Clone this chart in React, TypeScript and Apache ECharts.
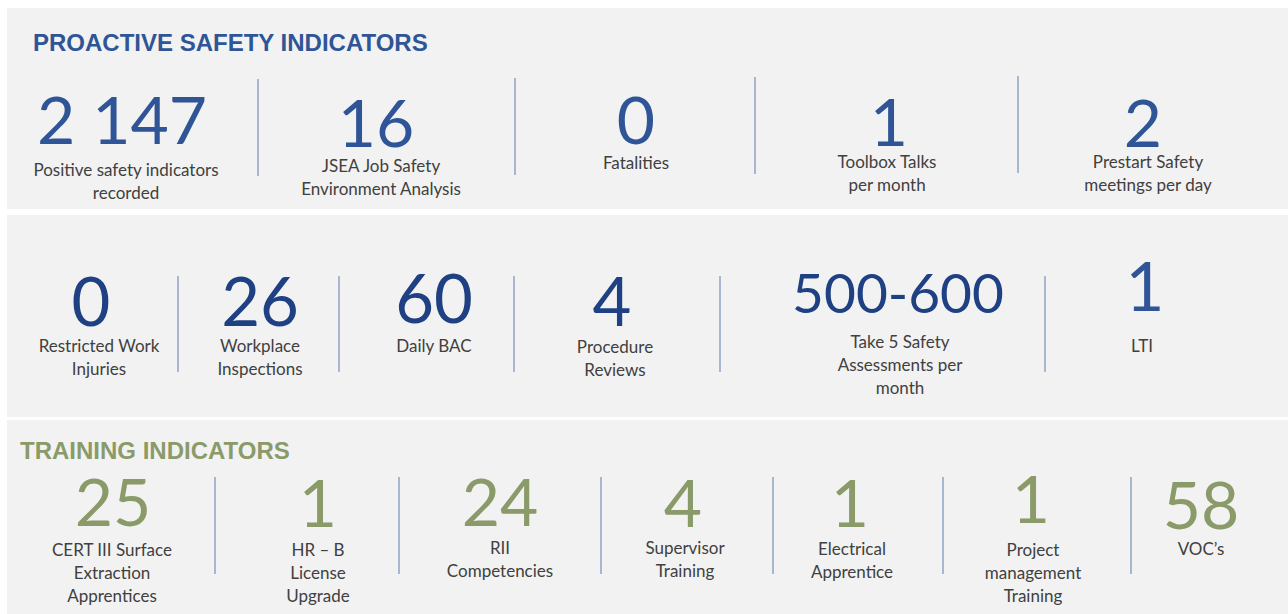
import React, { useEffect, useRef } from "react";
import * as echarts from "echarts";

// ---- Data ----
const sectionTitles = ["PROACTIVE SAFETY INDICATORS", "TRAINING INDICATORS"];

const row1Values = ["2 147", "16", "0", "1", "2"];
const row1Labels = [
  "Positive safety indicators\nrecorded",
  "JSEA Job Safety\nEnvironment Analysis",
  "Fatalities",
  "Toolbox Talks\nper month",
  "Prestart Safety\nmeetings per day",
];

const row2Values = ["0", "26", "60", "4", "500-600", "1"];
const row2Labels = [
  "Restricted Work\nInjuries",
  "Workplace\nInspections",
  "Daily BAC",
  "Procedure\nReviews",
  "Take 5 Safety\nAssessments per\nmonth",
  "LTI",
];

const row3Values = ["25", "1", "24", "4", "1", "1", "58"];
const row3Labels = [
  "CERT III Surface\nExtraction\nApprentices",
  "HR – B\nLicense\nUpgrade",
  "RII\nCompetencies",
  "Supervisor\nTraining",
  "Electrical\nApprentice",
  "Project\nmanagement\nTraining",
  "VOC’s",
];

// ---- Layout (positions kept separate from data) ----
const row1NumX = [122, 376, 636, 889, 1143];
const row1NumY = [118, 121, 118, 120, 121];
const row1LabX = [126, 381, 636, 887, 1148];
const row1LabY = [169, 165, 162, 161, 161];
const row1Div = [[258, 79, 176], [515, 78, 175], [755, 77, 174], [1018, 76, 173]];

const row2NumX = [91, 260, 434, 612, 898, 1145];
const row2NumY = [300, 300, 297, 300, 292, 285];
const row2NumSize = [67, 67, 67, 67, 55, 67];
const row2LabX = [99, 260, 434, 615, 900, 1142];
const row2LabY = [345, 345, 345, 346, 341, 345];
const row2Div = [[178, 276, 372], [339, 276, 372], [514, 276, 372], [720, 276, 372], [1045, 276, 372]];

const row3NumX = [113, 318, 500, 683, 850, 1031, 1201];
const row3NumY = [500, 501, 500, 501, 501, 497, 503];
const row3LabX = [112, 318, 500, 685, 852, 1033, 1201];
const row3LabY = [549, 549, 547, 547, 548, 549, 548];
const row3Div = [[215, 477, 574], [399, 477, 574], [601, 477, 574], [773, 477, 574], [943, 477, 574], [1131, 477, 574]];

const BLUE = "#2F5597";
const NAVY = "#1F4082";
const GREEN = "#8A9A69";
const LABEL = "#404040";
const PANEL = "#F2F2F2";
const DIVIDER = "#A6B7CF";
const NUM_FONT = "Lato, 'Open Sans', sans-serif";
const TITLE_FONT = "'Liberation Sans', Arial, sans-serif";

function numText(text: string, x: number, y: number, color: string, size = 66) {
  return {
    type: "text",
    x,
    y,
    style: {
      text,
      fill: color,
      font: `${size}px ${NUM_FONT}`,
      lineHeight: Math.round(size * 0.72),
      textAlign: "center",
      textVerticalAlign: "middle",
    },
  };
}

function labText(text: string, x: number, y: number) {
  const lh = 23;
  return {
    type: "text",
    x,
    y: y - lh / 2,
    style: {
      text,
      fill: LABEL,
      font: `17px ${NUM_FONT}`,
      lineHeight: lh,
      textAlign: "center",
      textVerticalAlign: "top",
    },
  };
}

function divider(d: number[]) {
  return {
    type: "line",
    shape: { x1: d[0], y1: d[1], x2: d[0], y2: d[2] },
    style: { stroke: DIVIDER, lineWidth: 2 },
  };
}

export default function App() {
  const ref = useRef<HTMLDivElement>(null);
  useEffect(() => {
    if (!ref.current) return;
    const chart = echarts.init(ref.current, null, { renderer: "svg" });
    const elements: any[] = [];
    // panels
    elements.push({ type: "rect", shape: { x: 7, y: 8, width: 1281, height: 201 }, style: { fill: PANEL } });
    elements.push({ type: "rect", shape: { x: 7, y: 215, width: 1281, height: 202 }, style: { fill: PANEL } });
    elements.push({ type: "rect", shape: { x: 7, y: 420, width: 1281, height: 194 }, style: { fill: PANEL } });
    // titles
    elements.push({
      type: "text",
      x: 33,
      y: 42,
      style: { text: sectionTitles[0], fill: BLUE, font: `bold 24px ${TITLE_FONT}`, textAlign: "left", textVerticalAlign: "middle" },
    });
    elements.push({
      type: "text",
      x: 20,
      y: 450,
      style: { text: sectionTitles[1], fill: GREEN, font: `bold 24px ${TITLE_FONT}`, textAlign: "left", textVerticalAlign: "middle" },
    });
    row1Values.forEach((v, i) => {
      elements.push(numText(v, row1NumX[i], row1NumY[i], BLUE));
      elements.push(labText(row1Labels[i], row1LabX[i], row1LabY[i]));
    });
    row1Div.forEach((d) => elements.push(divider(d)));
    row2Values.forEach((v, i) => {
      elements.push(numText(v, row2NumX[i], row2NumY[i], i === row2Values.length - 1 ? BLUE : NAVY, row2NumSize[i]));
      elements.push(labText(row2Labels[i], row2LabX[i], row2LabY[i]));
    });
    row2Div.forEach((d) => elements.push(divider(d)));
    row3Values.forEach((v, i) => {
      elements.push(numText(v, row3NumX[i], row3NumY[i], GREEN));
      elements.push(labText(row3Labels[i], row3LabX[i], row3LabY[i]));
    });
    row3Div.forEach((d) => elements.push(divider(d)));

    chart.setOption({
      animation: false,
      backgroundColor: "#FFFFFF",
      graphic: { elements },
    });
    return () => chart.dispose();
  }, []);
  return (
    <div
      ref={ref}
      style={{ position: "absolute", left: 0, top: 0, width: 1288, height: 614 }}
    />
  );
}
